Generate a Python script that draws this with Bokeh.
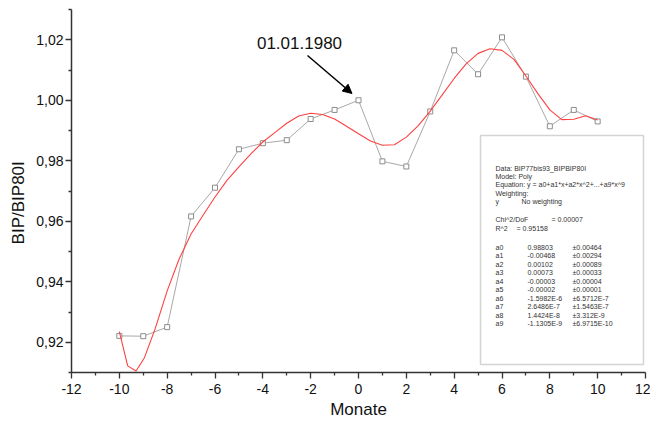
import numpy as np
from bokeh.plotting import figure
from bokeh.models import (Range1d, FixedTicker, CustomJSTickFormatter, Label, Arrow,
                          NormalHead, BoxAnnotation, ColumnDataSource)
from bokeh.core.properties import value
from bokeh.embed import file_html
from bokeh.resources import INLINE

# ---- data ----
months = [-10, -9, -8, -7, -6, -5, -4, -3, -2, -1, 0, 1, 2, 3, 4, 5, 6, 7, 8, 9, 10]
ratio = [0.9221, 0.9220, 0.9250, 0.9616, 0.9711, 0.9838, 0.9858, 0.9868, 0.9938, 0.9968,
         1.0000, 0.9798, 0.9781, 0.9963, 1.0165, 1.0086, 1.0208, 1.0078, 0.9914, 0.9968, 0.9930]

fit_x = [-10.0, -9.65, -9.3, -8.95, -8.5, -8.0, -7.5, -7.0, -6.5, -6.0, -5.5, -5.0, -4.5, -4.0,
         -3.5, -3.0, -2.5, -2.0, -1.5, -1.0, -0.5, 0.0, 0.5, 1.0, 1.5, 2.0, 2.5, 3.0, 3.5, 4.0,
         4.5, 5.0, 5.5, 6.0, 6.5, 7.0, 7.5, 8.0, 8.5, 9.0, 9.5, 10.0]
fit_y = [0.9235, 0.9122, 0.9105, 0.9149, 0.9245, 0.9370, 0.9475, 0.9558, 0.9620, 0.9680,
         0.9735, 0.9780, 0.9823, 0.9862, 0.9893, 0.9924, 0.9948, 0.9957, 0.9953, 0.9938,
         0.9914, 0.9889, 0.9865, 0.9851, 0.9853, 0.9878, 0.9916, 0.9964, 1.0018, 1.0072,
         1.0120, 1.0155, 1.0170, 1.0165, 1.0135, 1.0080, 1.0022, 0.9968, 0.9936, 0.9937,
         0.9949, 0.9935]

x_ticks = [-12, -10, -8, -6, -4, -2, 0, 2, 4, 6, 8, 10, 12]
x_minor = [-11, -9, -7, -5, -3, -1, 1, 3, 5, 7, 9, 11]
y_ticks = [0.92, 0.94, 0.96, 0.98, 1.00, 1.02]
y_minor = [0.91, 0.93, 0.95, 0.97, 0.99, 1.01, 1.03]

annot_text = "01.01.1980"
box_head = ["Data: BIP77bis93_BIPBIP80I", "Model: Poly",
            "Equation: y = a0+a1*x+a2*x^2+...+a9*x^9", "Weighting:"]
coef_names = ["a0", "a1", "a2", "a3", "a4", "a5", "a6", "a7", "a8", "a9"]
coef_vals = ["0.98803", "-0.00468", "0.00102", "0.00073", "-0.00003", "-0.00002",
             "-1.5982E-6", "2.6486E-7", "1.4424E-8", "-1.1305E-9"]
coef_errs = ["\u00b10.00464", "\u00b10.00294", "\u00b10.00089", "\u00b10.00033", "\u00b10.00004",
             "\u00b10.00001", "\u00b16.5712E-7", "\u00b11.5463E-7", "\u00b13.312E-9", "\u00b16.9715E-10"]

FONT = "Liberation Sans"

# page geometry of the plot frame (canvas pixels)
W, H = 650, 423
FL, FR, FT, FB = 71.0, 645.0, 9.0, 372.0
X0, X1, Y0, Y1 = -12, 12, 0.91, 1.03
p = figure(width=W, height=H, output_backend="svg", toolbar_location=None,
           x_range=Range1d(X0, X1), y_range=Range1d(Y0, Y1),
           min_border_left=int(FL), min_border_right=int(W - FR),
           min_border_top=int(FT), min_border_bottom=int(H - FB))
p.outline_line_color = None
p.xgrid.visible = False
p.ygrid.visible = False
p.background_fill_color = "white"

FW, FH = FR - FL, FB - FT
def px2x(px):
    return X0 + (px - FL) / FW * (X1 - X0)
def py2y(py):
    return Y1 - (py - FT) / FH * (Y1 - Y0)

# fit results box (underlay so text sits on top)
p.add_layout(BoxAnnotation(left=px2x(480), right=px2x(643), top=py2y(135), bottom=py2y(364),
                           fill_color="white", fill_alpha=1.0, line_color="#707070",
                           line_width=1.5, level="underlay"))

# data
p.line(months, ratio, line_color="#a8a8a8", line_width=1)
p.scatter(months, ratio, marker="square", size=5, fill_color="white",
          line_color="#8c8c8c", line_width=1)
p.line(fit_x, fit_y, line_color="#ff4040", line_width=1.1)

# axes
for ax in (p.xaxis[0], p.yaxis[0]):
    ax.axis_line_color = "#333333"
    ax.axis_line_width = 1.5
    ax.major_tick_line_color = "#333333"
    ax.minor_tick_line_color = "#333333"
    ax.major_tick_line_width = 1.3
    ax.minor_tick_line_width = 1.3
    ax.major_tick_in = 0
    ax.major_tick_out = 6
    ax.minor_tick_in = 0
    ax.minor_tick_out = 3
    ax.major_label_text_font = FONT
    ax.major_label_text_font_size = "14px"
    ax.major_label_text_color = "#111111"
    ax.axis_label_text_font = FONT
    ax.axis_label_text_font_style = "normal"
    ax.axis_label_text_color = "#111111"

p.xaxis.ticker = FixedTicker(ticks=x_ticks, minor_ticks=x_minor)
p.yaxis.ticker = FixedTicker(ticks=y_ticks, minor_ticks=y_minor)
p.xaxis.formatter = CustomJSTickFormatter(code="return tick.toFixed(0);")
p.yaxis.formatter = CustomJSTickFormatter(code="return tick.toFixed(2).replace('.', ',');")
p.xaxis.major_label_standoff = 5
p.yaxis.major_label_standoff = 2

# trailing no-break spaces push the rotated label slightly downwards, as in the original
p.yaxis.axis_label = "BIP/BIP80I" + "\u00a0" * 5
p.yaxis.axis_label_text_font_size = "17px"
p.yaxis.axis_label_standoff = 5

p.xaxis.axis_label = "Monate"
p.xaxis.axis_label_text_font_size = "17px"
p.xaxis.axis_label_standoff = 3

# annotation text + arrow
p.add_layout(Label(x=px2x(299), y=py2y(42), text=annot_text, text_font=FONT,
                   text_font_size="17px", text_color="#111111",
                   text_align="center", text_baseline="middle"))
p.add_layout(Arrow(end=NormalHead(size=9, fill_color="black", line_color="black"),
                   x_start=px2x(307), y_start=py2y(55), x_end=px2x(351.5), y_end=py2y(93),
                   line_color="black", line_width=1.5))

tx, ty, tt = [], [], []
rows_y = [167.7, 175.9, 184.2, 192.6]
for s, yy in zip(box_head, rows_y):
    tx.append(px2x(495)); ty.append(py2y(yy)); tt.append(s)
tx += [px2x(495), px2x(521)]; ty += [py2y(201)] * 2; tt += ["y", "No weighting"]
tx += [px2x(495), px2x(551)]; ty += [py2y(219.3)] * 2; tt += ["Chi^2/DoF", "= 0.00007"]
tx += [px2x(495), px2x(516)]; ty += [py2y(227.8)] * 2; tt += ["R^2", "= 0.95158"]
for i, (n, v, e) in enumerate(zip(coef_names, coef_vals, coef_errs)):
    yy = 247 + i * 8.44
    tx += [px2x(495), px2x(527), px2x(572)]
    ty += [py2y(yy)] * 3
    tt += [n, v, e]

src = ColumnDataSource(dict(x=tx, y=ty, t=tt))
p.text(x="x", y="y", text="t", source=src, text_font=value(FONT), text_font_size="7px",
       text_color="#333333", text_baseline="middle", text_align="left")

open("out.html", "w").write(file_html(p, INLINE))
